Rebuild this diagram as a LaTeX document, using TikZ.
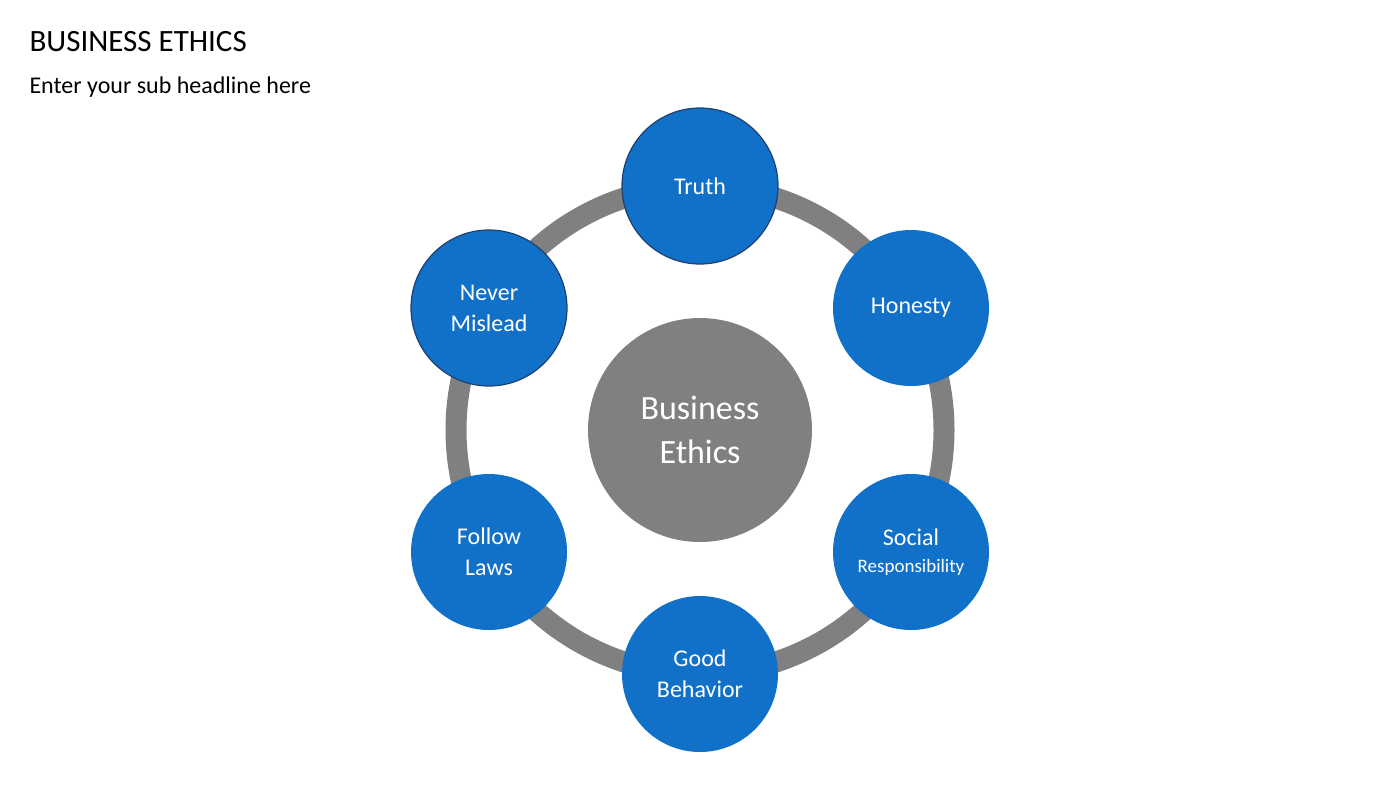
\documentclass[tikz,border=0pt]{standalone}
\usepackage{fontspec}
\setmainfont{Carlito}
\definecolor{bblue}{HTML}{1170C8}
\definecolor{bdark}{HTML}{1F3F6F}
\definecolor{ringgray}{HTML}{808080}
\begin{document}
\begin{tikzpicture}[x=1pt,y=-1pt,
  item/.style={circle,fill=bblue,minimum size=156pt,inner sep=0pt,text=white,align=center,font=\fontsize{24}{31}\selectfont},
  edged/.style={draw=bdark,line width=1.2pt}]
\useasboundingbox (0,0) rectangle (1400,788);
\draw[ringgray,line width=21pt] (700,430) circle (244);
\node[circle,fill=ringgray,minimum size=224pt,inner sep=0pt,text=white,align=center,font=\fontsize{34}{44}\selectfont] (c) at (700,430) {Business\\Ethics};
\node[item,edged] (t) at (700,186) {Truth};
\node[item] (h) at (911,308) {Honesty};
\node[item] (s) at (911,552) {Social\\[-4pt]{\fontsize{19}{24}\selectfont Responsibility}};
\node[item] (g) at (700,674) {Good\\Behavior};
\node[item] (f) at (489,552) {Follow\\Laws};
\node[item,edged] (n) at (489,308) {Never\\Mislead};
\node[anchor=west,font=\fontsize{31}{36}\selectfont] (title) at (26,42) {BUSINESS ETHICS};
\node[anchor=west,font=\fontsize{24}{30}\selectfont] (sub) at (26,87) {Enter your sub headline here};
\end{tikzpicture}
\end{document}
